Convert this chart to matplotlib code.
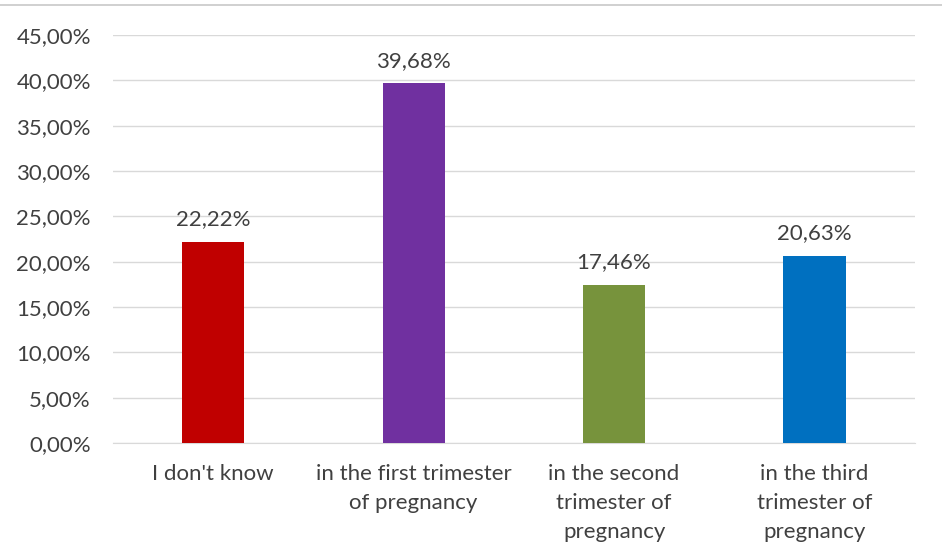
import matplotlib.pyplot as plt
from matplotlib.lines import Line2D
import numpy as np

categories = ["I don't know", "in the first trimester\nof pregnancy",
              "in the second\ntrimester of\npregnancy", "in the third\ntrimester of\npregnancy"]
values = [22.22, 39.68, 17.46, 20.63]
colors = ["#C00000", "#7030A0", "#77933C", "#0070C0"]
yticks = np.arange(0, 46, 5)

plt.rcParams['font.family'] = ['Lato', 'DejaVu Sans']
txt = "#404040"
fs = 16

fig = plt.figure(figsize=(9.42, 5.49), dpi=100)
ax = fig.add_axes([0.120, 0.193, 0.851, 0.743])

x = np.arange(len(categories))
ax.bar(x, values, width=0.31, color=colors, zorder=3)
for xi, v in zip(x, values):
    ax.annotate(f"{v:.2f}%".replace(".", ","), (xi, v), xytext=(0, 9),
                textcoords="offset points", ha="center", va="bottom",
                fontsize=fs, color=txt)

ax.set_xlim(-0.5, len(categories) - 0.5)
ax.set_ylim(0, 45)
ax.set_yticks(yticks)
ax.set_yticklabels([f"{t:.2f}%".replace(".", ",") for t in yticks], fontsize=fs, color=txt)
ax.set_xticks(x)
ax.set_xticklabels(categories, fontsize=fs, color=txt, linespacing=1.58)
ax.tick_params(length=0)
ax.tick_params(axis="y", pad=16)
ax.tick_params(axis="x", pad=15)
ax.grid(axis="y", color="#D9D9D9", linewidth=1, zorder=0)
for s in ["top", "right", "left"]:
    ax.spines[s].set_visible(False)
ax.spines["bottom"].set_color("#D9D9D9")

fig.add_artist(Line2D([0, 1], [1 - 5 / 549] * 2, color="#C8C8C8", linewidth=1.2))

fig.savefig("out.png", dpi=100)
